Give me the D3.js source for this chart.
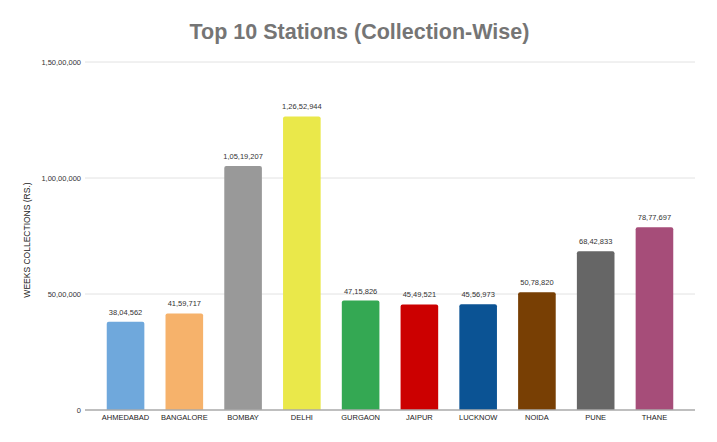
<!DOCTYPE html>
<html>
<head>
<meta charset="utf-8">
<script src="https://cdn.jsdelivr.net/npm/d3@7"></script>
<style>
  body { margin: 0; background: #fff; }
  svg { font-family: "Liberation Sans", Arial, sans-serif; }
</style>
</head>
<body>
<div id="chart"></div>
<script>
const stations = ["AHMEDABAD", "BANGALORE", "BOMBAY", "DELHI", "GURGAON", "JAIPUR", "LUCKNOW", "NOIDA", "PUNE", "THANE"];
const collections = [3804562, 4159717, 10519207, 12652944, 4715826, 4549521, 4556973, 5078820, 6842833, 7877697];
const barColors = ["#6fa8dc", "#f6b26b", "#999999", "#eae84a", "#34a853", "#cc0000", "#0b5394", "#783f04", "#666666", "#a64d79"];
const yTicks = [0, 5000000, 10000000, 15000000];

const W = 717, H = 442;
const margin = { top: 62, right: 22, bottom: 32, left: 85 };
const width = W - margin.left - margin.right;
const height = H - margin.top - margin.bottom;

// Indian digit grouping: 1,26,52,944
function inr(n) {
  const s = String(Math.round(n));
  if (s.length <= 3) return s;
  const last = s.slice(-3);
  let rest = s.slice(0, -3);
  rest = rest.replace(/\B(?=(\d{2})+(?!\d))/g, ",");
  return rest + "," + last;
}

const data = stations.map((s, i) => ({ name: s, value: collections[i], color: barColors[i] }));

const svg = d3.select("#chart").append("svg")
  .attr("width", W)
  .attr("height", H);

svg.append("text")
  .attr("x", W / 2 + 1)
  .attr("y", 39)
  .attr("text-anchor", "middle")
  .style("font-size", "21.5px")
  .style("font-weight", "bold")
  .style("fill", "#757575")
  .text("Top 10 Stations (Collection-Wise)");

const g = svg.append("g")
  .attr("transform", `translate(${margin.left},${margin.top})`);

const x = d3.scaleBand()
  .domain(stations)
  .range([0, width])
  .paddingInner(0.36)
  .paddingOuter(0.37);

const y = d3.scaleLinear()
  .domain([0, 15000000])
  .range([height, 0]);

// gridlines
g.selectAll("line.grid")
  .data(yTicks.slice(1))
  .enter()
  .append("line")
  .attr("class", "grid")
  .attr("x1", 0)
  .attr("x2", width)
  .attr("y1", d => y(d))
  .attr("y2", d => y(d))
  .attr("stroke", "#e2e2e2")
  .attr("stroke-width", 1);

// y tick labels
g.selectAll("text.ytick")
  .data(yTicks)
  .enter()
  .append("text")
  .attr("class", "ytick")
  .attr("x", -4)
  .attr("y", d => y(d))
  .attr("dy", "0.35em")
  .attr("text-anchor", "end")
  .style("font-size", "7.5px")
  .style("fill", "#333")
  .text(d => inr(d));

// bars with slightly rounded tops
const r = 2;
g.selectAll("path.bar")
  .data(data)
  .enter()
  .append("path")
  .attr("class", "bar")
  .attr("fill", d => d.color)
  .attr("d", d => {
    const x0 = x(d.name), w = x.bandwidth(), yt = y(d.value), yb = y(0);
    return `M${x0},${yb} V${yt + r} Q${x0},${yt} ${x0 + r},${yt} H${x0 + w - r} Q${x0 + w},${yt} ${x0 + w},${yt + r} V${yb} Z`;
  });

// baseline
g.append("line")
  .attr("x1", 0)
  .attr("x2", width)
  .attr("y1", y(0))
  .attr("y2", y(0))
  .attr("stroke", "#aaaaaa")
  .attr("stroke-width", 1.3);

// value labels
g.selectAll("text.val")
  .data(data)
  .enter()
  .append("text")
  .attr("class", "val")
  .attr("x", d => x(d.name) + x.bandwidth() / 2)
  .attr("y", d => y(d.value) - 7)
  .attr("text-anchor", "middle")
  .style("font-size", "7.5px")
  .style("fill", "#333")
  .text(d => inr(d.value));

// category labels
g.selectAll("text.cat")
  .data(data)
  .enter()
  .append("text")
  .attr("class", "cat")
  .attr("x", d => x(d.name) + x.bandwidth() / 2)
  .attr("y", height + 10)
  .attr("text-anchor", "middle")
  .style("font-size", "7.5px")
  .style("fill", "#222")
  .text(d => d.name);

// y axis title
svg.append("text")
  .attr("transform", `translate(30,${margin.top + height / 2 + 4}) rotate(-90)`)
  .attr("text-anchor", "middle")
  .style("font-size", "8.5px")
  .style("fill", "#222")
  .text("WEEKS COLLECTIONS (RS.)");
</script>
</body>
</html>
